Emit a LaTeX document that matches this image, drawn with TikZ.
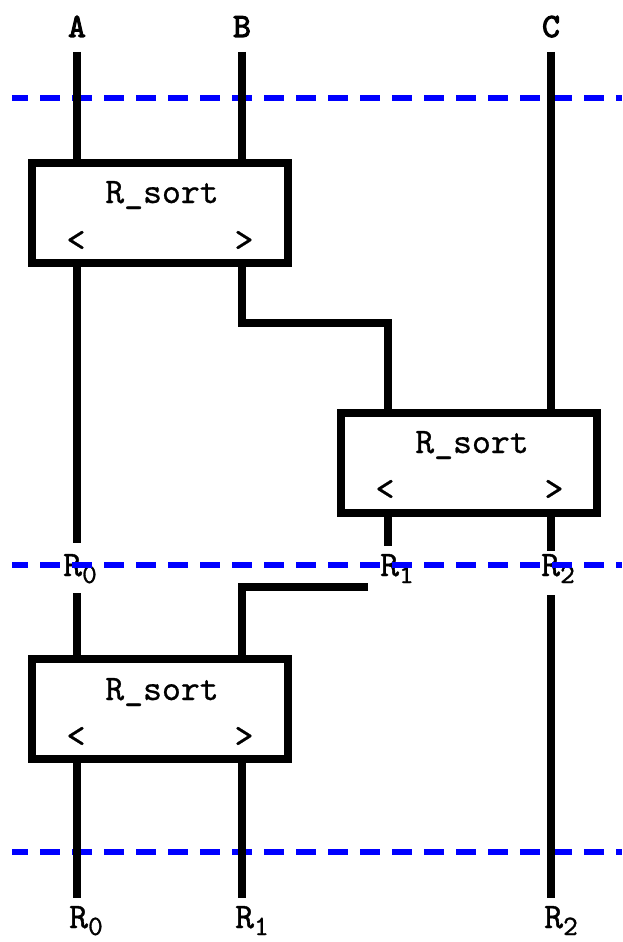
\documentclass[tikz,border=0pt]{standalone}
\usepackage{fontspec}
\newfontfamily\hdrfont{lmmono10-regular.otf}[FakeBold=3]
\newfontfamily\lblfont{lmmono10-regular.otf}[FakeBold=1]
\newfontfamily\boxfont{lmmono10-regular.otf}[FakeBold=0.7]
\newcommand\Rsub[1]{R\raisebox{-7pt}{\fontsize{28}{28}\selectfont #1}}
\begin{document}
\begin{tikzpicture}[x=1pt,y=-1pt,
  wire/.style={line width=8pt},
  sortbox/.style={draw,line width=8pt,minimum width=256pt,minimum height=100pt,inner sep=0pt},
  sep/.style={blue,line width=6pt,dash pattern=on 20pt off 12pt,dash phase=4pt},
  lbl/.style={font=\boxfont\fontsize{36}{36}\selectfont,inner sep=0pt,anchor=base},
  rlbl/.style={font=\lblfont\fontsize{36}{36}\selectfont,inner sep=0pt,anchor=base},
  hdr/.style={font=\hdrfont\fontsize{34}{34}\selectfont,inner sep=0pt,anchor=base}]
\useasboundingbox (0,0) rectangle (622,942);

% headers
\node[hdr] (hA) at (77,37) {A};
\node[hdr] (hB) at (242,37) {B};
\node[hdr] (hC) at (551,37) {C};
\coordinate (A0) at (77,52);
\coordinate (B0) at (242,52);
\coordinate (C0) at (551,52);

% boxes
\node[sortbox] (s1) at (160,212.5) {};
\node[sortbox] (s2) at (469,462.5) {};
\node[sortbox] (s3) at (160,708.5) {};
\node[lbl] (t1) at (162,203) {R\_sort};
\node[lbl] (t2) at (472,453) {R\_sort};
\node[lbl] (t3) at (162,700) {R\_sort};
\node[lbl] (l1) at (76,251) {<};
\node[lbl] (g1) at (244,251) {>};
\node[lbl] (l2) at (385,500) {<};
\node[lbl] (g2) at (554,500) {>};
\node[lbl] (l3) at (76,747) {<};
\node[lbl] (g3) at (244,747) {>};

% middle labels
\node[rlbl] (m0) at (80,576) {\Rsub{0}};
\node[rlbl] (m1) at (397,576) {\Rsub{1}};
\node[rlbl] (m2) at (558,576) {\Rsub{2}};
% bottom labels
\node[rlbl] (b0) at (86,928) {\Rsub{0}};
\node[rlbl] (b1) at (252,928) {\Rsub{1}};
\node[rlbl] (b2) at (561,928) {\Rsub{2}};

\coordinate (A1) at (77,543);
\coordinate (A2) at (77,593);
\coordinate (A3) at (77,898);
\coordinate (Bk1) at (242,323);
\coordinate (Bk2) at (388,323);
\coordinate (D1) at (388,546);
\coordinate (C1) at (551,551);
\coordinate (C2) at (551,595);
\coordinate (C3) at (551,898);
\coordinate (E0) at (368,587);
\coordinate (E1) at (242,587);
\coordinate (B3) at (242,898);

% separators
\draw[sep] (12,98) -- (622,98);
\draw[sep] (12,565) -- (622,565);
\draw[sep] (12,852) -- (622,852);

% wires
\draw[wire] (A0) -- (A0 |- s1.north);
\draw[wire] (B0) -- (B0 |- s1.north);
\draw[wire] (C0) -- (C0 |- s2.north);
\draw[wire] (A1 |- s1.south) -- (A1);
\draw[wire] (Bk1 |- s1.south) -- (Bk1) -- (Bk2) -- (Bk2 |- s2.north);
\draw[wire] (D1 |- s2.south) -- (D1);
\draw[wire] (C1 |- s2.south) -- (C1);
\draw[wire] (A2) -- (A2 |- s3.north);
\draw[wire] (E0) -- (E1) -- (E1 |- s3.north);
\draw[wire] (A3 |- s3.south) -- (A3);
\draw[wire] (B3 |- s3.south) -- (B3);
\draw[wire] (C2) -- (C3);

% redraw boxes on top of wire ends
\node[sortbox] at (s1) {};
\node[sortbox] at (s2) {};
\node[sortbox] at (s3) {};
\end{tikzpicture}
\end{document}
